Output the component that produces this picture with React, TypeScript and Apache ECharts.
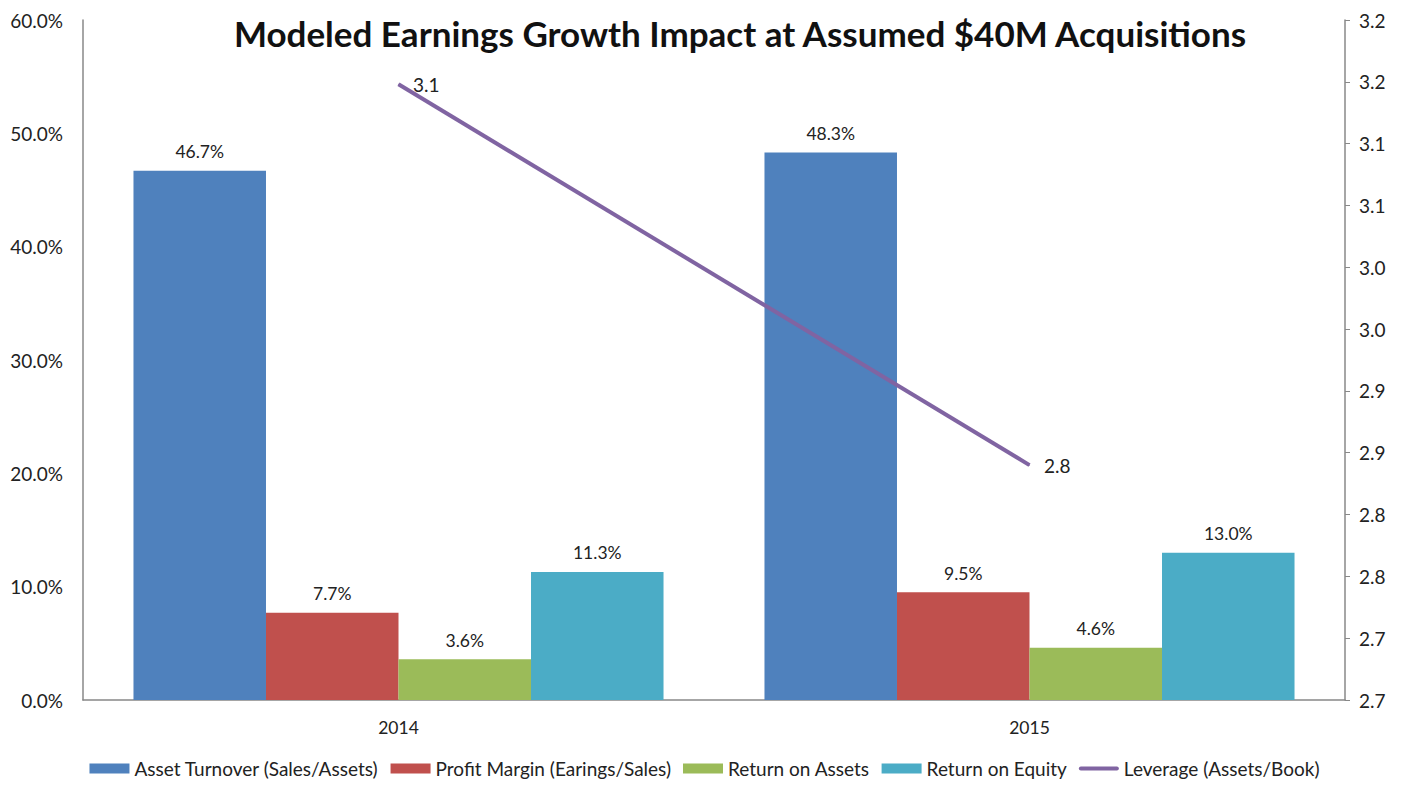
import React, { useEffect, useRef } from "react";
import * as echarts from "echarts";

const categories = ["2014", "2015"];
const assetTurnover = [46.7, 48.3];
const profitMargin = [7.7, 9.5];
const returnOnAssets = [3.6, 4.6];
const returnOnEquity = [11.3, 13.0];
const leverage = [3.148, 2.84];

const seriesNames = [
  "Asset Turnover (Sales/Assets)",
  "Profit Margin (Earings/Sales)",
  "Return on Assets",
  "Return on Equity",
  "Leverage (Assets/Book)",
];
const colors = ["#4F81BD", "#C0504D", "#9BBB59", "#4BACC6", "#8064A2"];

const FONT = "Lato, 'Open Sans', sans-serif";

const fmt1 = (v: number) => (Math.round(v * 10 + 1e-6) / 10).toFixed(1);

export default function App() {
  const ref = useRef<HTMLDivElement>(null);
  useEffect(() => {
    document.body.style.margin = "0";
    const chart = echarts.init(ref.current!, null, { renderer: "svg" });
    const barLabel = {
      show: true,
      position: "top",
      distance: 10,
      fontSize: 17.5,
      color: "#222",
      fontFamily: FONT,
      formatter: (p: any) => fmt1(p.value) + "%",
    };
    const barSeries = [assetTurnover, profitMargin, returnOnAssets, returnOnEquity].map((d, i) => ({
      name: seriesNames[i],
      type: "bar",
      data: d,
      yAxisIndex: 0,
      barGap: "0%",
      barCategoryGap: "16%",
      itemStyle: { color: colors[i] },
      label: barLabel,
    }));
    chart.setOption({
      animation: false,
      textStyle: { fontFamily: FONT },
      title: {
        text: "Modeled Earnings Growth Impact at Assumed $40M Acquisitions",
        left: 735,
        textAlign: "center",
        top: 10,
        textStyle: { fontSize: 35, fontWeight: "bold", color: "#111", fontFamily: FONT },
      },
      legend: {
        bottom: 4,
        left: "center",
        itemWidth: 40,
        itemHeight: 10,
        itemGap: 12,
        textStyle: { fontSize: 19, color: "#222", fontFamily: FONT },
        data: [
          { name: seriesNames[0], icon: "rect" },
          { name: seriesNames[1], icon: "rect" },
          { name: seriesNames[2], icon: "rect" },
          { name: seriesNames[3], icon: "rect" },
          { name: seriesNames[4], icon: "path://M2,0 L38,0 A2,2 0 0 1 38,4 L2,4 A2,2 0 0 1 2,0 Z" },
        ],
      },
      grid: { left: 83, right: 64, top: 20, bottom: 87, containLabel: false },
      xAxis: {
        type: "category",
        data: categories,
        axisLine: { lineStyle: { color: "#888", width: 1.5 } },
        axisTick: { show: false },
        axisLabel: { fontSize: 17.5, color: "#222", margin: 18, fontFamily: FONT },
      },
      yAxis: [
        {
          type: "value",
          min: 0,
          max: 60,
          interval: 10,
          axisLine: { show: true, lineStyle: { color: "#888", width: 1.5 } },
          axisTick: { show: false },
          splitLine: { show: false },
          axisLabel: {
            fontSize: 19,
            color: "#222",
            margin: 20,
            fontFamily: FONT,
            formatter: (v: number) => v.toFixed(1) + "%",
          },
        },
        {
          type: "value",
          min: 2.65,
          max: 3.2,
          interval: 0.05,
          position: "right",
          axisLine: { show: true, lineStyle: { color: "#888", width: 1.5 } },
          axisTick: { show: true, length: 5, lineStyle: { color: "#888" } },
          splitLine: { show: false },
          axisLabel: {
            fontSize: 19,
            color: "#222",
            margin: 14,
            fontFamily: FONT,
            formatter: (v: number) => fmt1(v),
          },
        },
      ],
      series: [
        ...barSeries,
        {
          name: seriesNames[4],
          type: "line",
          yAxisIndex: 1,
          data: leverage,
          symbol: "circle",
          symbolSize: 1,
          lineStyle: { color: colors[4], width: 4 },
          itemStyle: { color: colors[4] },
          label: {
            show: true,
            position: "right",
            distance: 14,
            fontSize: 19,
            color: "#222",
            fontFamily: FONT,
            formatter: (p: any) => fmt1(p.value),
          },
          z: 5,
        },
      ],
    });
    return () => chart.dispose();
  }, []);
  return <div ref={ref} style={{ width: 1409, height: 787 }} />;
}
